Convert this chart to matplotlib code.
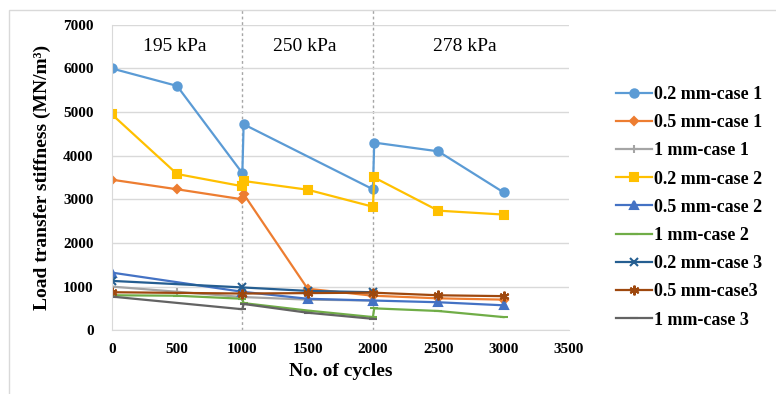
import matplotlib.pyplot as plt
from matplotlib.patches import Rectangle

plt.rcParams['font.family'] = ['Liberation Serif', 'DejaVu Serif']

# cycles and load transfer stiffness (MN/m3) for each gap / case
x_c1_02 = [0, 500, 1000, 1010, 2000, 2010, 2500, 3000]
y_c1_02 = [6000, 5600, 3600, 4720, 3230, 4300, 4100, 3160]

x_c1_05 = [0, 500, 1000, 1010, 1500, 2000, 2500, 3000]
y_c1_05 = [3450, 3230, 3000, 3120, 950, 790, 730, 700]

x_c1_1 = [0, 500, 1000, 1500, 2000]
y_c1_1 = [1000, 880, 760, 700, 680]

x_c2_02 = [0, 500, 1000, 1010, 1500, 2000, 2010, 2500, 3000]
y_c2_02 = [4950, 3580, 3300, 3420, 3220, 2830, 3500, 2740, 2650]

x_c2_05 = [0, 1000, 1500, 2000, 2500, 3000]
y_c2_05 = [1320, 880, 720, 680, 640, 570]

x_c2_1 = [0, 500, 1000, 1010, 1500, 2000, 2010, 2500, 3000]
y_c2_1 = [800, 790, 720, 620, 450, 300, 500, 440, 300]

x_c3_02 = [0, 1000, 1500, 2000]
y_c3_02 = [1130, 980, 900, 870]

x_c3_05 = [0, 1000, 1500, 2000, 2500, 3000]
y_c3_05 = [870, 840, 850, 860, 800, 780]

x_c3_1 = [0, 1000, 1010, 1500, 2000]
y_c3_1 = [770, 480, 600, 400, 260]

stages = ['195 kPa', '250 kPa', '278 kPa']
stage_x = [480, 1480, 2700]

fig = plt.figure(figsize=(7.76, 3.94), dpi=100)
ax = fig.add_axes([0.144, 0.162, 0.589, 0.775])

# light frame round the figure
fig.patches.append(Rectangle((9 / 776, -0.1), 1.2, 1 - 10 / 394 + 0.1,
                             transform=fig.transFigure, fill=False,
                             edgecolor='#d9d9d9', linewidth=1))

asterisk = (6, 2, 0)
series = [
    (x_c1_02, y_c1_02, '0.2 mm-case 1', '#5B9BD5', 'o', 6),
    (x_c1_05, y_c1_05, '0.5 mm-case 1', '#ED7D31', 'D', 4),
    (x_c1_1, y_c1_1, '1 mm-case 1', '#A5A5A5', '+', 6),
    (x_c2_02, y_c2_02, '0.2 mm-case 2', '#FFC000', 's', 6),
    (x_c2_05, y_c2_05, '0.5 mm-case 2', '#4472C4', '^', 6),
    (x_c2_1, y_c2_1, '1 mm-case 2', '#70AD47', '_', 6),
    (x_c3_02, y_c3_02, '0.2 mm-case 3', '#255E91', 'x', 6),
    (x_c3_05, y_c3_05, '0.5 mm-case3', '#9E480E', asterisk, 7),
    (x_c3_1, y_c3_1, '1 mm-case 3', '#636363', '_', 6),
]
for xs, ys, lab, col, mk, ms in series:
    ax.plot(xs, ys, color=col, marker=mk, markersize=ms, linewidth=1.6,
            markeredgewidth=1.5, label=lab)

for xv in [1000, 2000]:
    ax.axvline(xv, ymin=0, ymax=1.05, color='#a6a6a6', linestyle=(0, (2, 2)),
               linewidth=1, clip_on=False, zorder=0)

for s, sx in zip(stages, stage_x):
    ax.text(sx, 6500, s, ha='center', va='center', fontsize=14)

ax.set_xlim(0, 3500)
ax.set_ylim(0, 7000)
ax.set_xticks(range(0, 3501, 500))
ax.set_yticks(range(0, 7001, 1000))
ax.grid(axis='y', color='#d9d9d9', linewidth=1)
ax.set_axisbelow(True)
ax.tick_params(length=0, labelsize=11)
ax.tick_params(axis='y', pad=13)
ax.tick_params(axis='x', pad=9)
for t in ax.get_xticklabels() + ax.get_yticklabels():
    t.set_fontweight('bold')
for side in ['top', 'right']:
    ax.spines[side].set_visible(False)
for side in ['left', 'bottom']:
    ax.spines[side].set_color('#d9d9d9')

ax.set_xlabel('No. of cycles', fontsize=14, fontweight='bold', labelpad=5)
ax.set_ylabel('Load transfer stiffness (MN/m³)', fontsize=14,
              fontweight='bold', labelpad=9)

leg = fig.legend(loc='upper left', bbox_to_anchor=(0.785, 0.80),
                 frameon=False, prop={'weight': 'bold', 'size': 13},
                 handlelength=2.0, handletextpad=0.1, labelspacing=0.62,
                 borderaxespad=0)

fig.savefig('out.png', dpi=100)
